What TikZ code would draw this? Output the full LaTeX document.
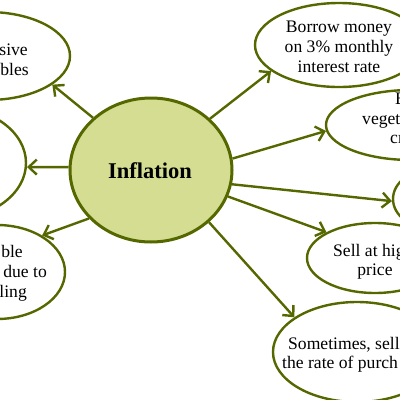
\documentclass[tikz,border=0pt]{standalone}
\usepackage{fontspec}
\setmainfont{Liberation Serif}
\usetikzlibrary{shapes.geometric,arrows.meta}
\definecolor{bordc}{RGB}{85,104,0}
\definecolor{fillc}{RGB}{212,221,145}
\begin{document}
\begin{tikzpicture}[x=1pt,y=-1pt,
  bub/.style={ellipse,draw=bordc,line width=2.4pt,inner sep=0pt},
  lab/.style={font=\fontsize{17.6}{20}\selectfont,inner sep=0pt},
  arr/.style={draw=bordc,line width=2.4pt,-{Straight Barb[length=8pt,width=15pt]}}]
\fill[white] (0,0) rectangle (400,400);
\useasboundingbox (0,0) rectangle (400,400);
\clip (0,0) rectangle (400,400);
\node[bub, fill=fillc, line width=3pt, minimum width=162pt, minimum height=144pt] (infl) at (151,170) {};
\node[font=\fontsize{22.5}{26}\selectfont\bfseries, anchor=base, inner sep=0pt] (infltxt) at (150,178) {Inflation};
\node[bub, minimum width=164pt, minimum height=88pt] (tl) at (-12,56) {};
\node[bub, minimum width=152pt, minimum height=112pt] (lm) at (-50,163) {};
\node[bub, minimum width=136pt, minimum height=94pt] (bl) at (-3,272) {};
\node[bub, minimum width=168pt, minimum height=84pt] (bor) at (339,45) {};
\node[bub, minimum width=170pt, minimum height=70pt] (r2) at (411,125) {};
\node[bub, minimum width=80pt, minimum height=60pt] (r3) at (433,199) {};
\node[bub, minimum width=136pt, minimum height=70pt] (sell) at (375,258) {};
\node[bub, minimum width=168pt, minimum height=100pt] (some) at (357,352) {};
\draw[arr] (infl.138.6) -- (tl.-24.4);
\draw[arr] (infl.178.6) -- (lm.-3);
\draw[arr] (infl.218.2) -- (bl.39);
\draw[arr] (infl.41.4) -- (bor.201.3);
\draw[arr] (infl.8.4) -- (r2.184.8);
\draw[arr] (infl.-10.5) -- (r3.183);
\draw[arr] (infl.-19.6) -- (sell.152.5);
\draw[arr] (infl.-42.4) -- (some.151.6);
\node[lab, anchor=base east] (tl1) at (28,55) {sive};
\node[lab, anchor=base east] (tl2) at (29,75) {bles};
\node[lab, anchor=base east] (bl1) at (23,257) {ble};
\node[lab, anchor=base east] (bl2) at (47,277) {due to};
\node[lab, anchor=base east] (bl3) at (27,297) {ling};
\node[lab, align=center] (bortxt) at (339,47) {Borrow money\\on 3\% monthly\\interest rate};
\node[lab, anchor=base west] (r2a) at (395,104) {B};
\node[lab, anchor=base west] (r2b) at (362,124) {vegeta};
\node[lab, anchor=base west] (r2c) at (390,143) {cr};
\node[lab, anchor=base west] (s1) at (333,256) {Sell at hig};
\node[lab, anchor=base] (s2) at (375,275) {price};
\node[lab, anchor=base west] (so1) at (288,349) {Sometimes, sell};
\node[lab, anchor=base west] (so2) at (282,368) {the rate of purch};
\end{tikzpicture}
\end{document}
